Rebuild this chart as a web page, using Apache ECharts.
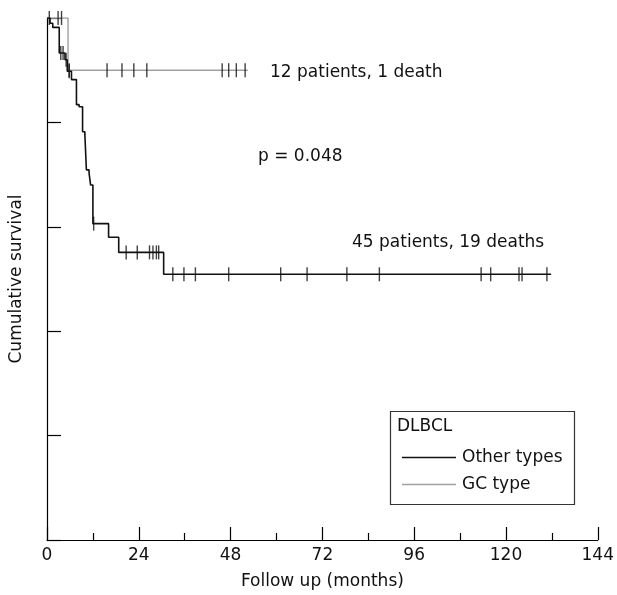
<!DOCTYPE html>
<html><head><meta charset="utf-8">
<script src="https://cdn.jsdelivr.net/npm/echarts@6/dist/echarts.min.js"></script>
<style>html,body{margin:0;padding:0;background:#fff}#c{width:617px;height:595px}</style>
</head><body><div id="c"></div>
<script>
// Kaplan-Meier step points (months, cumulative survival)
const otherTimes = [0, 0.8, 1.5, 3.2, 4.7, 5.3, 6.4, 7.7, 8.4, 9.3, 9.9, 10.3, 11.0, 11.4, 12.0, 16.1, 18.75, 30.5, 131.8];
const otherSurv  = [1.0, 0.990, 0.982, 0.933, 0.920, 0.898, 0.882, 0.834, 0.830, 0.782, 0.777, 0.709, 0.703, 0.680, 0.606, 0.580, 0.551, 0.509, 0.509];
const otherCensor = [0.6, 3.6, 4.2, 5.0, 5.8, 12.2, 20.7, 23.6, 26.8, 27.7, 28.6, 29.2, 32.9, 35.8, 38.8, 47.5, 61.1, 68.0, 78.4, 86.9, 113.5, 116.0, 123.4, 124.2, 130.7];

const gcTimes = [0, 5.5, 52.5];
const gcSurv  = [1.0, 0.9, 0.9];
const gcCensor = [2.9, 3.8, 5.8, 15.7, 19.6, 22.7, 26.1, 45.8, 47.5, 49.5, 51.8];

const xTicks = [0, 24, 48, 72, 96, 120, 144];
const seriesNames = ['Other types', 'GC type'];
const legendTitle = 'DLBCL';
const notes = ['12 patients, 1 death', 'p = 0.048', '45 patients, 19 deaths'];

function survAt(times, surv, t) {
  let s = surv[0];
  for (let i = 0; i < times.length; i++) { if (times[i] <= t) s = surv[i]; }
  return s;
}
const zip = (a, b) => a.map((v, i) => [v, b[i]]);
const FONT = 'DejaVu Sans';
const FS = 17;
const TXT = '#111';
const chart = echarts.init(document.getElementById('c'));
const censorSymbol = { symbol: 'rect', symbolSize: [1.4, 14] };

chart.setOption({
  animation: false,
  grid: { left: 47, right: 16, top: 18, bottom: 50 },
  xAxis: {
    type: 'value', min: 0, max: 144, interval: 24,
    name: 'Follow up (months)', nameLocation: 'middle', nameGap: 33,
    nameTextStyle: { fontFamily: FONT, fontSize: FS, color: TXT },
    axisLine: { lineStyle: { color: '#000', width: 1.2 } },
    axisTick: { inside: true, length: 13, lineStyle: { color: '#000', width: 1.2 } },
    minorTick: { show: true, splitNumber: 2, length: 7, lineStyle: { color: '#000', width: 1.2 } },
    axisLabel: { margin: 7, fontFamily: FONT, fontSize: FS, color: TXT,
      formatter: v => xTicks.includes(v) ? String(v) : '' },
    splitLine: { show: false }
  },
  yAxis: {
    type: 'value', min: 0, max: 1, interval: 0.2,
    name: 'Cumulative survival', nameLocation: 'middle', nameGap: 22,
    nameTextStyle: { fontFamily: FONT, fontSize: FS, color: TXT },
    axisLine: { show: true, lineStyle: { color: '#000', width: 1.2 } },
    axisTick: { show: true, inside: true, length: 14, lineStyle: { color: '#000', width: 1.2 } },
    axisLabel: { show: false },
    splitLine: { show: false }
  },
  legend: {
    orient: 'vertical', left: 397, top: 444, itemWidth: 54, itemHeight: 1.5, itemGap: 10,
    icon: 'rect',
    data: seriesNames,
    textStyle: { fontFamily: FONT, fontSize: FS, color: TXT, padding: [0, 0, 0, 1] }
  },
  graphic: [
    { type: 'rect', left: 388, top: 409, shape: { width: 184, height: 93 },
      style: { fill: 'none', stroke: '#333', lineWidth: 1.2 } },
    { type: 'text', left: 397, top: 418, style: { text: legendTitle, font: FS + 'px ' + FONT, fill: TXT } },
    { type: 'text', left: 270, top: 64, style: { text: notes[0], font: FS + 'px ' + FONT, fill: TXT } },
    { type: 'text', left: 258, top: 148, style: { text: notes[1], font: FS + 'px ' + FONT, fill: TXT } },
    { type: 'text', left: 352, top: 234, style: { text: notes[2], font: FS + 'px ' + FONT, fill: TXT } }
  ],
  series: [
    { name: 'GC type', type: 'line', step: 'end', symbol: 'none', data: zip(gcTimes, gcSurv),
      lineStyle: { color: '#a0a0a0', width: 1.4 }, itemStyle: { color: '#a0a0a0' }, z: 2 },
    { name: 'Other types', type: 'line', step: 'end', symbol: 'none', data: zip(otherTimes, otherSurv),
      lineStyle: { color: '#111', width: 1.6 }, itemStyle: { color: '#111' }, z: 3 },
    { name: 'GC censored', type: 'scatter', ...censorSymbol, z: 4,
      itemStyle: { color: '#111' },
      data: gcCensor.map(t => [t, survAt(gcTimes, gcSurv, t)]) },
    { name: 'Other censored', type: 'scatter', ...censorSymbol, z: 4,
      itemStyle: { color: '#111' },
      data: otherCensor.map(t => [t, survAt(otherTimes, otherSurv, t)]) }
  ]
});
</script>
</body></html>
